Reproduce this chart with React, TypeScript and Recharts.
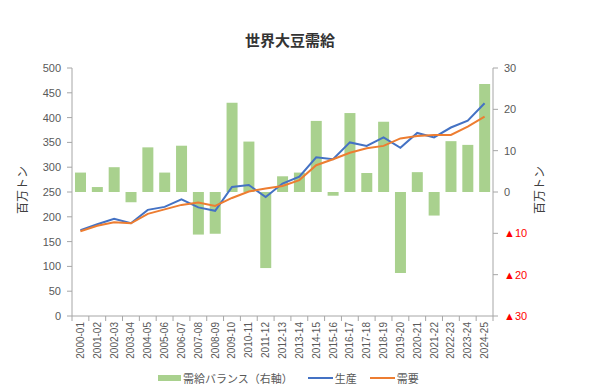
import {
  ComposedChart,
  Bar,
  Line,
  XAxis,
  YAxis,
} from "recharts";

const years = [
  "2000-01", "2001-02", "2002-03", "2003-04", "2004-05", "2005-06", "2006-07",
  "2007-08", "2008-09", "2009-10", "2010-11", "2011-12", "2012-13", "2013-14",
  "2014-15", "2015-16", "2016-17", "2017-18", "2018-19", "2019-20", "2020-21",
  "2021-22", "2022-23", "2023-24", "2024-25",
];

// 需給バランス (right axis, million tons)
const balance = [
  4.7, 1.2, 6.0, -2.5, 10.8, 4.7, 11.2, -10.3, -10.1, 21.6, 12.2, -18.4, 3.8,
  4.7, 17.2, -0.9, 19.1, 4.6, 17.0, -19.6, 4.8, -5.7, 12.3, 11.4, 26.1,
];

// 生産
const production = [
  173, 185, 196, 187, 214, 220, 235, 219, 212, 260, 264, 240, 267, 281, 320,
  316, 350, 343, 360, 339, 369, 360, 380, 394, 429,
];

// 需要
const demand = [
  171, 182, 189, 187, 206, 215, 224, 229, 222, 238, 251, 257, 262, 274, 304,
  316, 329, 338, 343, 358, 363, 365, 365, 382, 402,
];

const leftTicks = [0, 50, 100, 150, 200, 250, 300, 350, 400, 450, 500];
const rightTicks = [-30, -20, -10, 0, 10, 20, 30];

const data = years.map((y, i) => ({
  year: y,
  balance: balance[i],
  production: production[i],
  demand: demand[i],
}));

const FONT = "'Liberation Sans', Arial, 'Noto Sans CJK JP', sans-serif";
const TEXT = "#595959";
const AXIS = "#a6a6a6";

const XTick = (props: any) => {
  const { x, y, payload, index } = props;
  const off = payload && payload.offset ? payload.offset : 8.4;
  return (
    <g>
      <line x1={x - off} y1={y} x2={x - off} y2={y + 5} stroke={AXIS} />
      {index === years.length - 1 && (
        <line x1={x + off} y1={y} x2={x + off} y2={y + 5} stroke={AXIS} />
      )}
      <text
        transform={`translate(${x},${y + 6}) rotate(-90)`}
        textAnchor="end"
        dy="0.35em"
        fontSize={10}
        fill={TEXT}
        fontFamily={FONT}
      >
        {payload.value}
      </text>
    </g>
  );
};

const RightTick = (props: any) => {
  const { x, y, payload } = props;
  const v = payload.value;
  const neg = v < 0;
  return (
    <text
      x={x}
      y={y}
      dy="0.35em"
      textAnchor="start"
      fontSize={11}
      fill={neg ? "#ff0000" : TEXT}
      fontFamily={FONT}
    >
      {neg ? `▲${Math.abs(v)}` : v}
    </text>
  );
};

const axisTitle = (left: number) => ({
  position: "absolute" as const,
  left: left - 40,
  top: 182,
  width: 80,
  textAlign: "center" as const,
  fontSize: 12,
  color: "#404040",
  transform: "rotate(-90deg)",
  lineHeight: "16px",
});

export default function App() {
  return (
    <div
      style={{
        position: "absolute",
        left: 0,
        top: 0,
        width: 601,
        height: 391,
        background: "#fff",
        fontFamily: FONT,
      }}
    >
      <div
        style={{
          position: "absolute",
          top: 29,
          left: 0,
          width: 580,
          textAlign: "center",
          fontSize: 15,
          fontWeight: "bold",
          color: "#333",
        }}
      >
        世界大豆需給
      </div>
      <div style={axisTitle(23)}>百万トン</div>
      <div style={axisTitle(540)}>百万トン</div>
      <ComposedChart
        width={601}
        height={391}
        data={data}
        margin={{ top: 68, right: 0, bottom: 0, left: 0 }}
      >
        <XAxis
          dataKey="year"
          height={75}
          interval={0}
          tickLine={false}
          tickSize={0}
          tickMargin={0}
          stroke={AXIS}
          tick={<XTick />}
        />
        <YAxis
          yAxisId="left"
          width={72}
          domain={[0, 500]}
          ticks={leftTicks}
          interval={0}
          stroke={AXIS}
          tickSize={5}
          tickMargin={6}
          tick={{ fill: TEXT, fontSize: 11, fontFamily: FONT }}
        />
        <YAxis
          yAxisId="right"
          orientation="right"
          width={108}
          domain={[-30, 30]}
          ticks={rightTicks}
          interval={0}
          stroke={AXIS}
          tickSize={5}
          tickMargin={6}
          tick={<RightTick />}
        />
        <Bar
          yAxisId="right"
          dataKey="balance"
          fill="#a9d18e"
          barSize={11}
          isAnimationActive={false}
        />
        <Line
          yAxisId="left"
          dataKey="production"
          stroke="#4472c4"
          strokeWidth={2}
          dot={false}
          isAnimationActive={false}
        />
        <Line
          yAxisId="left"
          dataKey="demand"
          stroke="#ed7d31"
          strokeWidth={2}
          dot={false}
          isAnimationActive={false}
        />
      </ComposedChart>
      <div
        style={{
          position: "absolute",
          top: 370,
          left: 158,
          display: "flex",
          alignItems: "center",
          fontSize: 11,
          color: TEXT,
          whiteSpace: "nowrap",
        }}
      >
        <span style={{ display: "inline-block", width: 23, height: 6, background: "#a9d18e", marginRight: 2 }} />
        <span style={{ marginRight: 15 }}>需給バランス（右軸）</span>
        <span style={{ display: "inline-block", width: 25, height: 2, background: "#4472c4", marginRight: 2 }} />
        <span style={{ marginRight: 13 }}>生産</span>
        <span style={{ display: "inline-block", width: 25, height: 2, background: "#ed7d31", marginRight: 2 }} />
        <span>需要</span>
      </div>
    </div>
  );
}
